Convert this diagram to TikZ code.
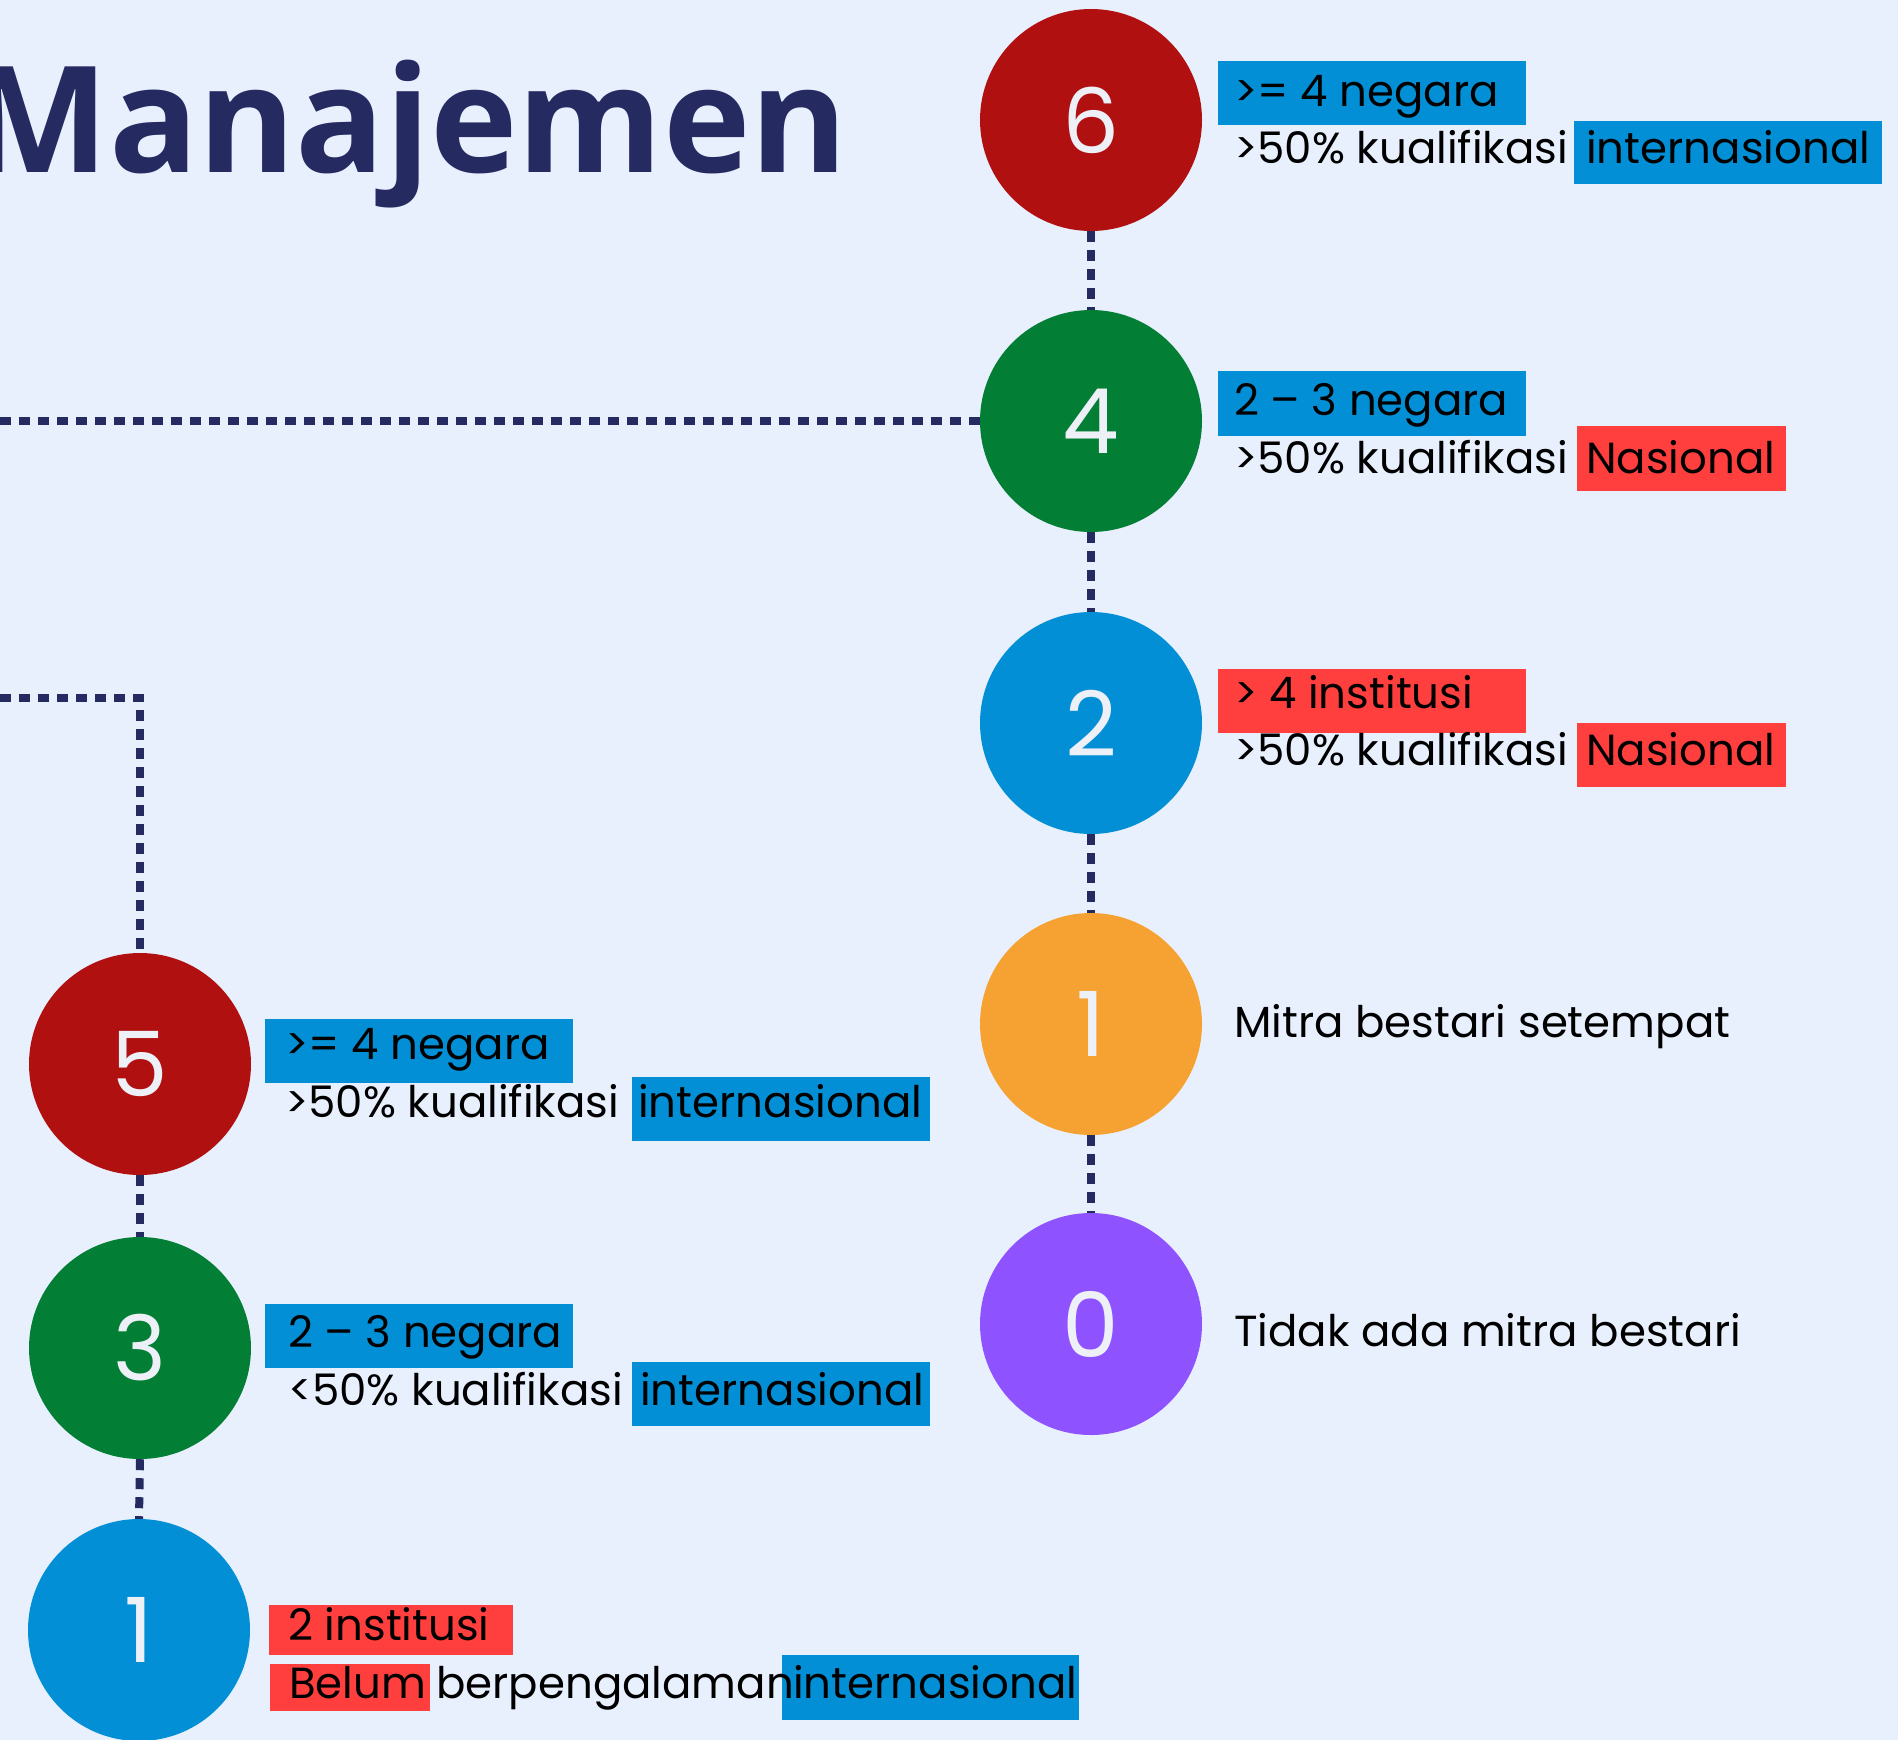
\documentclass[tikz,border=0pt]{standalone}
\usepackage{fontspec}
\setmainfont{Poppins}
\newfontfamily\titlefont{Open Sans}
\definecolor{bg}{HTML}{E8F0FE}
\definecolor{navy}{HTML}{252A61}
\definecolor{cred}{HTML}{B11010}
\definecolor{cgreen}{HTML}{037E35}
\definecolor{cblue}{HTML}{038FD6}
\definecolor{corange}{HTML}{F6A232}
\definecolor{cpurple}{HTML}{8E53FF}
\definecolor{hlred}{HTML}{FF3E3E}
\definecolor{digit}{HTML}{EEF0F8}
\tikzset{
 circ/.style={circle, minimum size=222pt, inner sep=0pt, text=digit, font=\fontsize{90}{90}\selectfont},
 dotline/.style={draw=navy, line width=8pt, dash pattern=on 11pt off 8pt},
 lbl/.style={anchor=base west, inner sep=0pt, text=black, font=\fontsize{43.5}{50}\selectfont},
 hl/.style={anchor=north west, inner sep=0pt, draw=none},
}
\begin{document}
\begin{tikzpicture}[x=1pt,y=-1pt]
\useasboundingbox (0,0) rectangle (1898,1740);
\fill[bg] (0,0) rectangle (1898,1740);

\node[anchor=base east, inner sep=0pt, text=navy, font=\titlefont\bfseries\fontsize{148}{160}\selectfont] (title) at (848,172) {Manajemen};

% circles
\node[circ, fill=cred] (c6) at (1091,120) {6};
\node[circ, fill=cgreen] (c4) at (1091,421) {4};
\node[circ, fill=cblue] (c2) at (1091,723) {2};
\node[circ, fill=corange] (c1r) at (1091,1024) {1};
\node[circ, fill=cpurple] (c0) at (1091,1324) {0};
\node[circ, fill=cred] (c5) at (140,1064) {5};
\node[circ, fill=cgreen] (c3) at (140,1348) {3};
\node[circ, fill=cblue] (c1l) at (139,1630) {1};

% connectors
\coordinate (a0) at (0,421);
\coordinate (b0) at (0,698);
\draw[dotline] (a0) -- (c4.west);
\draw[dotline] (b0) -- (c5.north |- b0) -- (c5.north);
\draw[dotline] (c6.south) -- (c4.north);
\draw[dotline] (c4.south) -- (c2.north);
\draw[dotline] (c2.south) -- (c1r.north);
\draw[dotline] (c1r.south) -- (c0.north);
\draw[dotline] (c5.south) -- (c3.north);
\draw[dotline] (c3.south) -- (c1l.north);

% right 6
\node[hl, fill=cblue, minimum width=308pt, minimum height=64pt] (h6a) at (1218,61) {};
\node[hl, fill=cblue, minimum width=308pt, minimum height=63pt] (h6b) at (1574,121) {};
\node[lbl] (t6a) at (1234,106) {>= 4 negara};
\node[lbl] (t6b) at (1234,163) {>50\% kualifikasi};
\node[lbl] (t6c) at (1586,163) {internasional};

% right 4
\node[hl, fill=cblue, minimum width=308pt, minimum height=65pt] (h4a) at (1218,371) {};
\node[hl, fill=hlred, minimum width=209pt, minimum height=65pt] (h4b) at (1577,426) {};
\node[lbl] (t4a) at (1234,415) {2 – 3 negara};
\node[lbl] (t4b) at (1234,473) {>50\% kualifikasi};
\node[lbl] (t4c) at (1586,473) {Nasional};

% right 2
\node[hl, fill=hlred, minimum width=308pt, minimum height=64pt] (h2a) at (1218,669) {};
\node[hl, fill=hlred, minimum width=209pt, minimum height=64pt] (h2b) at (1577,723) {};
\node[lbl] (t2a) at (1234,708) {> 4 institusi};
\node[lbl] (t2b) at (1234,765) {>50\% kualifikasi};
\node[lbl] (t2c) at (1586,765) {Nasional};

% right 1, 0
\node[lbl] (t1) at (1234,1037) {Mitra bestari setempat};
\node[lbl] (t0) at (1234,1346) {Tidak ada mitra bestari};

% left 5
\node[hl, fill=cblue, minimum width=308pt, minimum height=64pt] (h5a) at (265,1019) {};
\node[hl, fill=cblue, minimum width=298pt, minimum height=64pt] (h5b) at (632,1077) {};
\node[lbl] (t5a) at (285,1059) {>= 4 negara};
\node[lbl] (t5b) at (285,1117) {>50\% kualifikasi};
\node[lbl] (t5c) at (638,1117) {internasional};

% left 3
\node[hl, fill=cblue, minimum width=308pt, minimum height=64pt] (h3a) at (265,1304) {};
\node[hl, fill=cblue, minimum width=298pt, minimum height=64pt] (h3b) at (632,1362) {};
\node[lbl] (t3a) at (288,1347) {2 – 3 negara};
\node[lbl] (t3b) at (288,1405) {<50\% kualifikasi};
\node[lbl] (t3c) at (640,1405) {internasional};

% left 1
\node[hl, fill=hlred, minimum width=244pt, minimum height=50pt] (h1a) at (269,1605) {};
\node[hl, fill=hlred, minimum width=160pt, minimum height=47pt] (h1b) at (270,1664) {};
\node[hl, fill=cblue, minimum width=297pt, minimum height=65pt] (h1c) at (782,1655) {};
\node[lbl] (t1a) at (288,1640) {2 institusi};
\node[lbl] (t1b) at (289,1698) {Belum};
\node[lbl] (t1c) at (436,1698) {berpengalaman};
\node[lbl] (t1d) at (793,1698) {internasional};
\end{tikzpicture}
\end{document}
